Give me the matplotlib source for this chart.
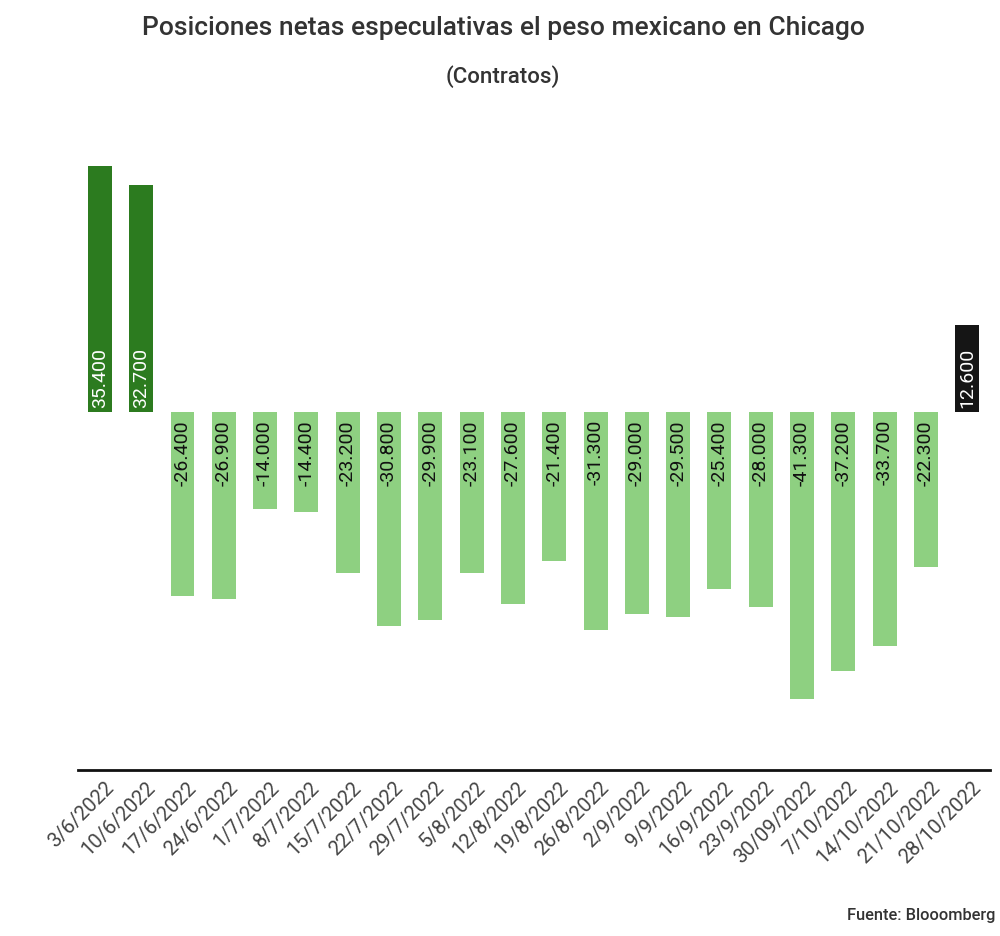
import numpy as np
import matplotlib.pyplot as plt
import matplotlib.transforms as mtransforms

plt.rcParams['font.family'] = ['Roboto', 'DejaVu Sans']

fechas = ["3/6/2022", "10/6/2022", "17/6/2022", "24/6/2022", "1/7/2022", "8/7/2022",
          "15/7/2022", "22/7/2022", "29/7/2022", "5/8/2022", "12/8/2022", "19/8/2022",
          "26/8/2022", "2/9/2022", "9/9/2022", "16/9/2022", "23/9/2022", "30/09/2022",
          "7/10/2022", "14/10/2022", "21/10/2022", "28/10/2022"]
posiciones = [35400, 32700, -26400, -26900, -14000, -14400, -23200, -30800, -29900,
              -23100, -27600, -21400, -31300, -29000, -29500, -25400, -28000, -41300,
              -37200, -33700, -22300, 12600]


def fmt(v):
    return f"{v:,}".replace(",", ".")


def visualize():
    fig = plt.figure(figsize=(10, 9.37), dpi=100)
    ax = fig.add_axes([0.078, 0.1772, 0.912, 0.6734])

    x = np.arange(len(fechas))
    colores = []
    for i, v in enumerate(posiciones):
        if i == len(posiciones) - 1:
            colores.append("#151515")
        elif v > 0:
            colores.append("#2c7b1f")
        else:
            colores.append("#8ed081")
    bars = ax.bar(x, posiciones, width=0.58, color=colores)

    for i, (b, v) in enumerate(zip(bars, posiciones)):
        cx = b.get_x() + b.get_width() / 2
        if v > 0:
            ax.annotate(fmt(v), (cx, 0), xytext=(0, 4), textcoords="offset points",
                        rotation=90, ha="center", va="bottom", color="white", fontsize=14)
        else:
            ax.annotate(fmt(v), (cx, 0), xytext=(0, -5), textcoords="offset points",
                        rotation=90, ha="center", va="top", color="#111111", fontsize=14)

    ax.set_xlim(-0.53, len(fechas) - 0.45)
    ax.set_ylim(-51500, 39300)
    ax.set_yticks([])
    for s in ["top", "right", "left"]:
        ax.spines[s].set_visible(False)
    ax.spines["bottom"].set_linewidth(2)
    ax.spines["bottom"].set_color("#111111")

    ax.set_xticks(x)
    ax.set_xticklabels(fechas, rotation=45, ha="right", rotation_mode="anchor",
                       fontsize=14.5, color="#444444")
    ax.tick_params(axis="x", length=0, pad=5)
    offset = mtransforms.ScaledTranslation(4 / 100, 0, fig.dpi_scale_trans)
    for lbl in ax.get_xticklabels():
        lbl.set_transform(lbl.get_transform() + offset)

    fig.text(0.503, 0.970, "Posiciones netas especulativas el peso mexicano en Chicago",
             ha="center", va="center", fontsize=19, fontweight="medium", color="#333333")
    fig.text(0.503, 0.918, "(Contratos)", ha="center", va="center",
             fontsize=16, fontweight="medium", color="#333333")
    fig.text(0.995, 0.023, "Fuente: Blooomberg", ha="right", va="center",
             fontsize=11.8, fontweight="medium", color="#333333")

    fig.savefig("out.png", dpi=100)


if __name__ == "__main__":
    visualize()
